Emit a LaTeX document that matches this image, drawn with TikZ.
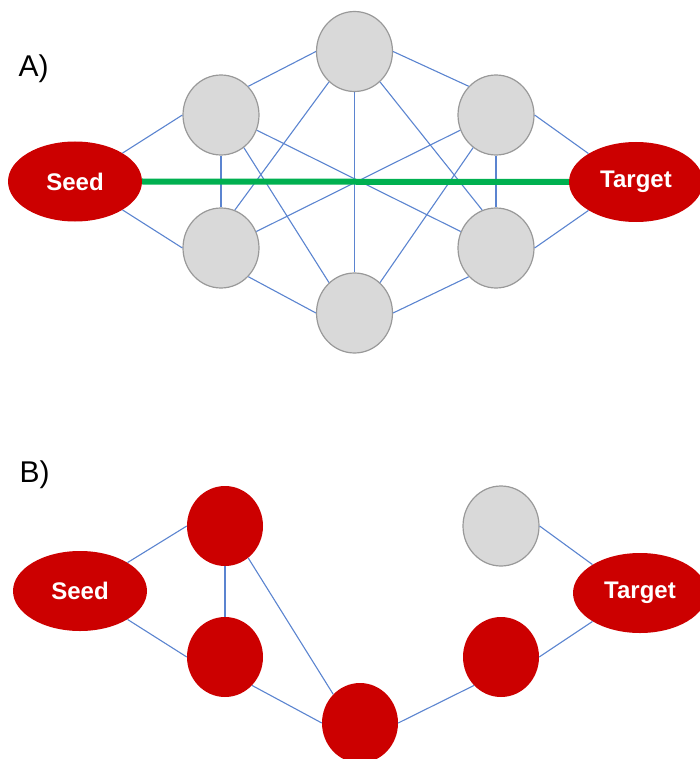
\documentclass[tikz,border=0pt]{standalone}
\usepackage{fontspec}
\setmainfont{Liberation Sans}
\usepackage{tikz}
\usetikzlibrary{positioning,shapes.geometric}

\definecolor{nodered}{HTML}{CC0000}
\definecolor{nodegray}{HTML}{D9D9D9}
\definecolor{rimgray}{HTML}{999999}
\definecolor{edgeblue}{HTML}{5B84D0}
\definecolor{pathgreen}{HTML}{00B050}

\begin{document}
\begin{tikzpicture}[
    x=1pt, y=1pt,
    hub/.style={ellipse, minimum width=76pt, minimum height=80pt, inner sep=0pt},
    idle/.style={hub, fill=nodegray, draw=rimgray, line width=1.2pt},
    hit/.style={hub, fill=nodered},
    term/.style={ellipse, fill=nodered, minimum width=134pt, minimum height=80pt, inner sep=0pt, text=white, font=\fontsize{24}{28}\selectfont\bfseries},
    link/.style={draw=edgeblue, line width=1.1pt},
    route/.style={draw=pathgreen, line width=6pt},
    panel/.style={anchor=base west, font=\fontsize{30}{34}\selectfont}
]
\useasboundingbox (0,0) rectangle (699,-759);

% Panel A
\node[panel] (labA) at (15,-77) {A)};
\node[idle] (a_top) at (354.5,-51.5) {};
\node[idle] (a_ul) at (221,-115) {};
\node[idle] (a_ur) at (496,-115) {};
\node[idle] (a_ll) at (221,-248) {};
\node[idle] (a_lr) at (496,-248) {};
\node[idle] (a_bot) at (354.5,-313) {};
\node[term] (seedA) at (75,-181.5) {Seed};
\node[term] (targetA) at (636,-182) {Target};

% Edges A
\draw[link] (seedA.north east) -- (a_ul.west);
\draw[link] (seedA.south east) -- (a_ll.west);
\draw[link] (targetA.north west) -- (a_ur.east);
\draw[link] (targetA.south west) -- (a_lr.east);
\draw[link] (a_top.west) -- (a_ul.north east);
\draw[link] (a_top.east) -- (a_ur.north west);
\draw[link] (a_bot.west) -- (a_ll.south east);
\draw[link] (a_bot.east) -- (a_lr.south west);
\draw[link] (a_ul.south) -- (a_ll.north);
\draw[link] (a_ur.south) -- (a_lr.north);
\draw[link] (a_top.south) -- (a_bot.north);
\draw[link] (a_top.230) -- (a_ll.70);
\draw[link] (a_top.310) -- (a_lr.110);
\draw[link] (a_ul.305) -- (a_bot.130);
\draw[link] (a_ur.235) -- (a_bot.50);
\draw[link] (a_ul.337) -- (a_lr.155);
\draw[link] (a_ur.203) -- (a_ll.25);

% Shortcut
\draw[route] (seedA.east) -- (targetA.west);

% Panel B
\node[panel] (labB) at (16,-482) {B)};
\node[hit] (b_ul) at (225,-526) {};
\node[hit] (b_ll) at (225,-657) {};
\node[hit] (b_bot) at (360,-723) {};
\node[hit] (b_lr) at (501,-657) {};
\node[idle] (b_ur) at (501,-526) {};
\node[term] (seedB) at (80,-591) {Seed};
\node[term] (targetB) at (640,-593) {Target};

% Edges B
\draw[link] (seedB.north east) -- (b_ul.west);
\draw[link] (seedB.south east) -- (b_ll.west);
\draw[link] (b_ul.south) -- (b_ll.north);
\draw[link] (b_ul.306) -- (b_bot.133);
\draw[link] (b_ll.south east) -- (b_bot.west);
\draw[link] (b_bot.east) -- (b_lr.south west);
\draw[link] (b_lr.east) -- (targetB.south west);
\draw[link] (b_ur.east) -- (targetB.north west);

\end{tikzpicture}
\end{document}
